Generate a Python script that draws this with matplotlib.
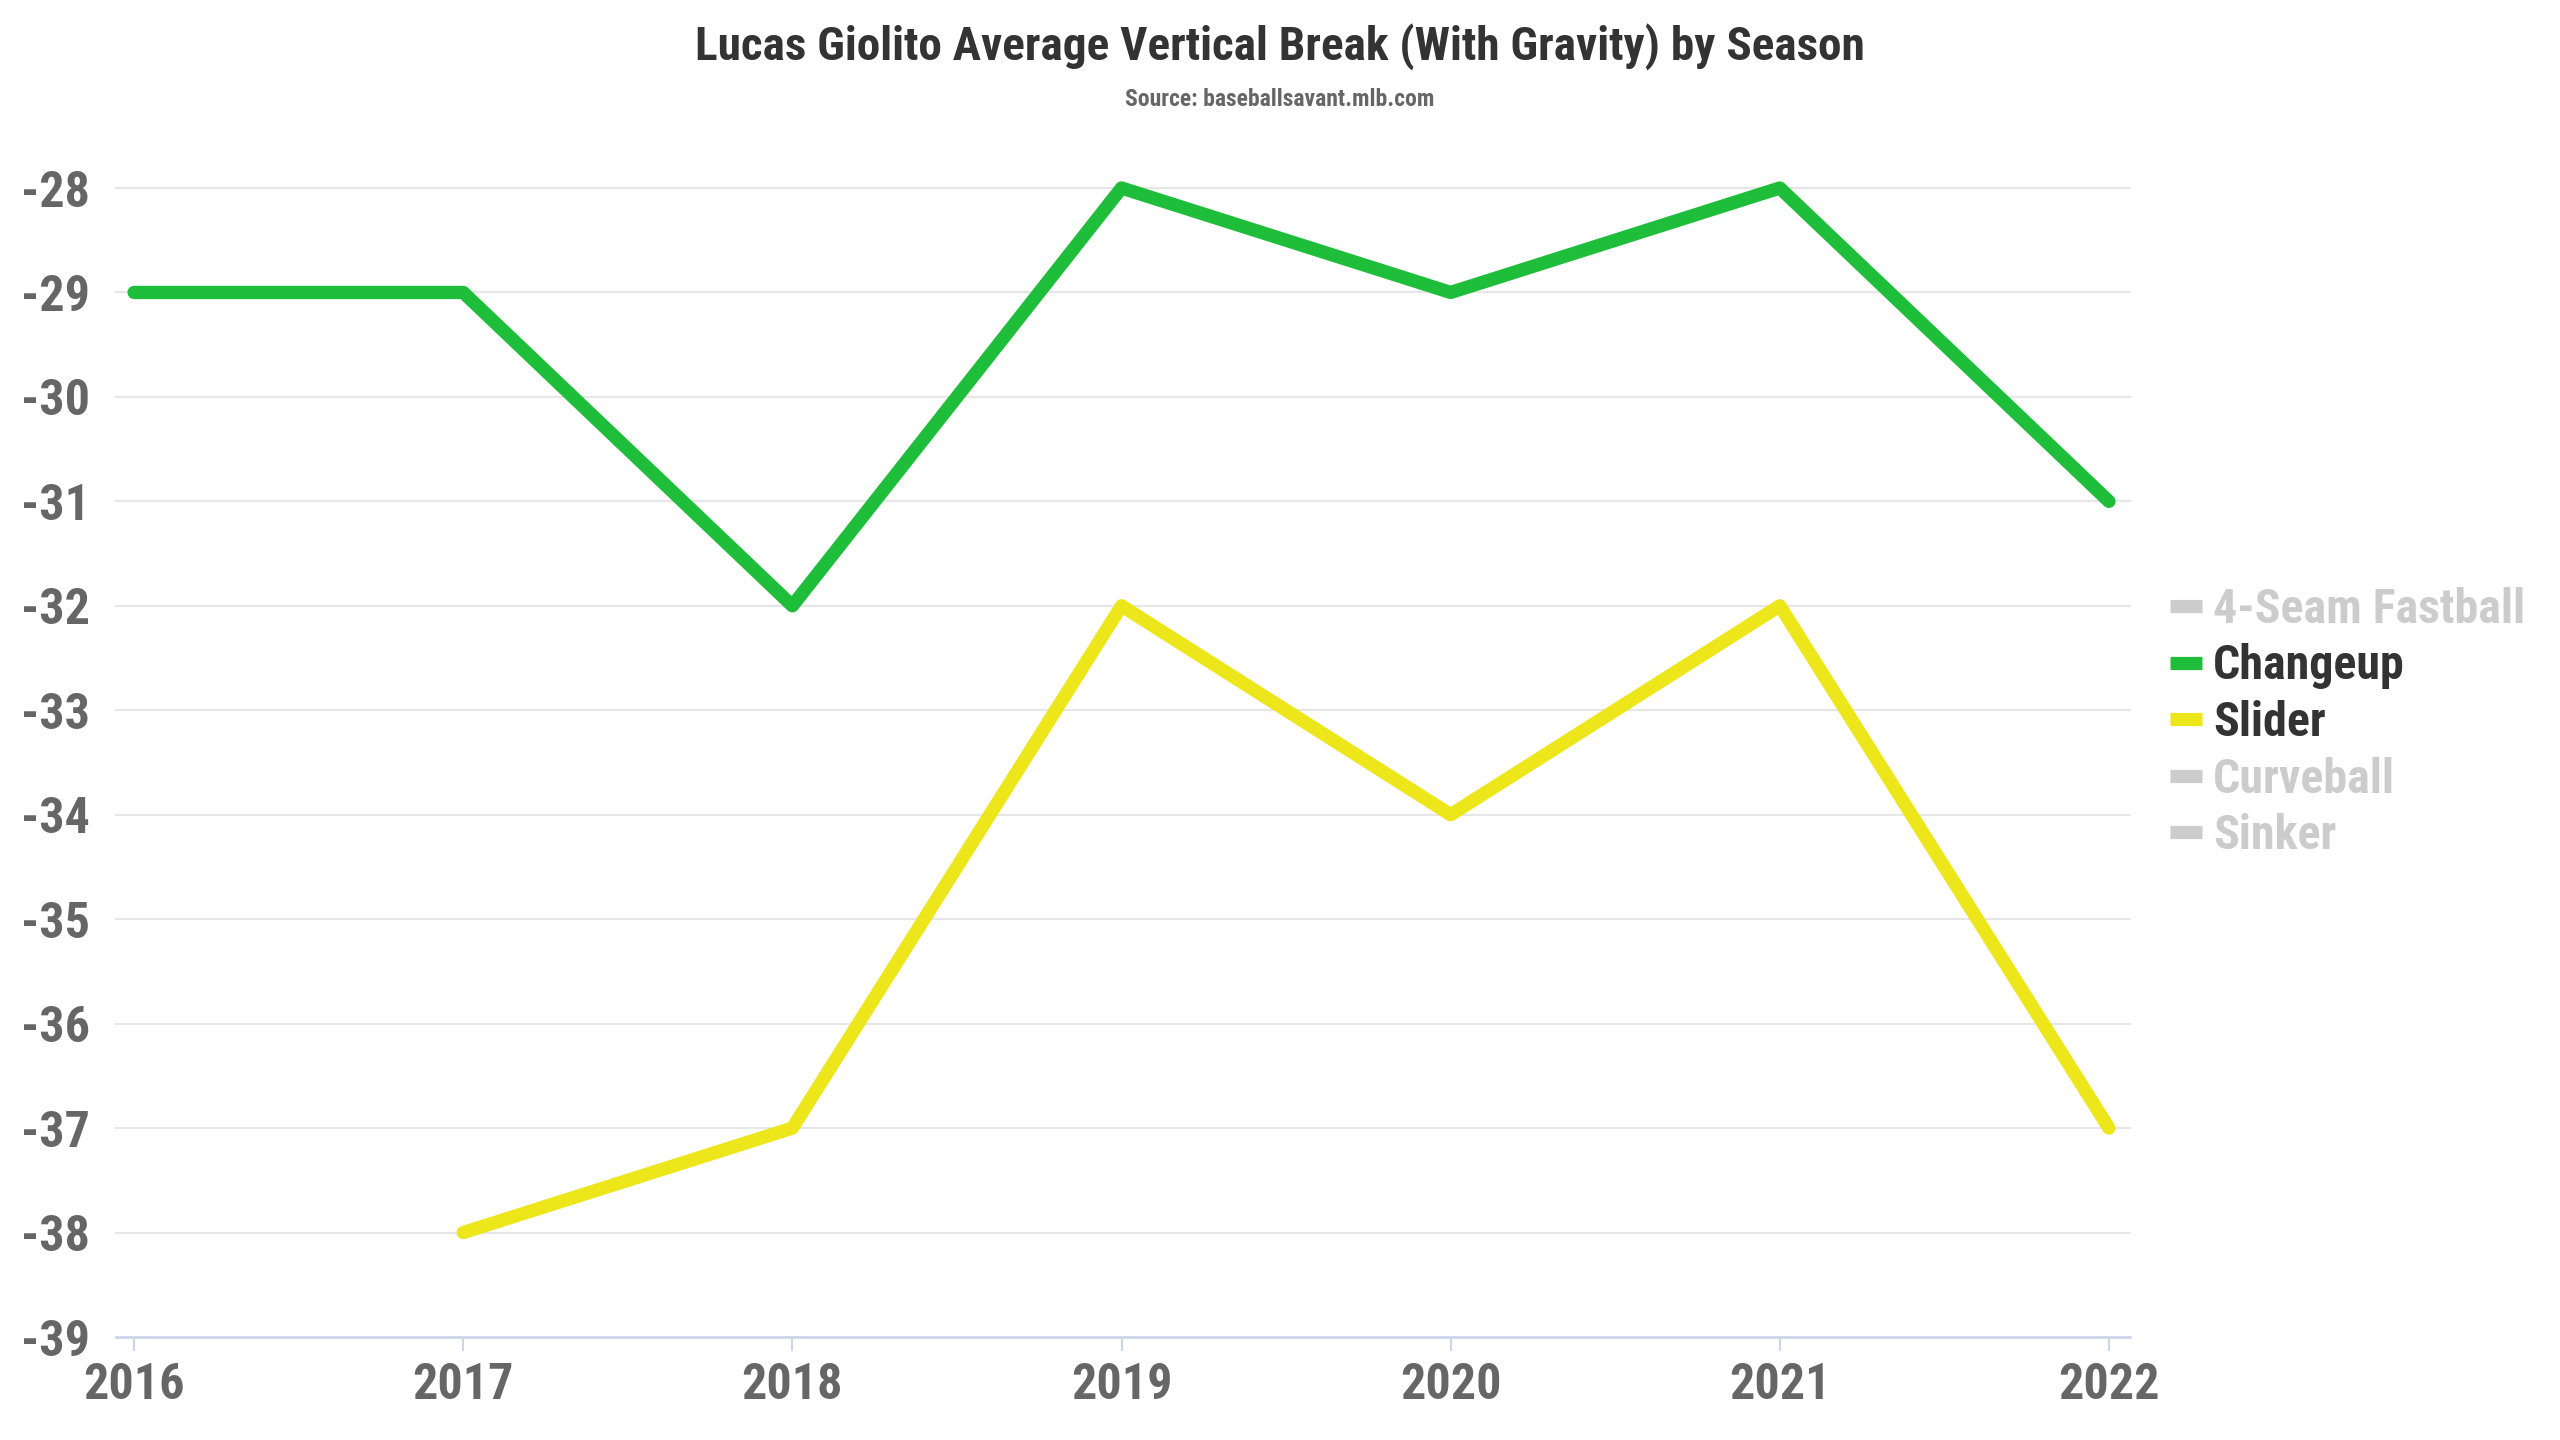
import matplotlib
matplotlib.use("Agg")
import matplotlib.pyplot as plt
from matplotlib import font_manager
from matplotlib.lines import Line2D
import numpy as np

# ---- data ----
seasons = [2016, 2017, 2018, 2019, 2020, 2021, 2022]
changeup = [-29, -29, -32, -28, -29, -28, -31]
slider = [np.nan, -38, -37, -32, -34, -32, -37]
legend_labels = ["4-Seam Fastball", "Changeup", "Slider", "Curveball", "Sinker"]
legend_visible = [False, True, True, False, False]
series_colors = {"Changeup": "#1ebe3b", "Slider": "#ece61a"}
y_ticks = list(range(-39, -27))
title = "Lucas Giolito Average Vertical Break (With Gravity) by Season"
subtitle = "Source: baseballsavant.mlb.com"

# ---- font ----
avail = {f.name for f in font_manager.fontManager.ttflist}
family = "Roboto"
for cand in ["Roboto Condensed", "Liberation Sans Narrow", "Roboto"]:
    if cand in avail:
        family = cand
        break
plt.rcParams["font.family"] = [family, "DejaVu Sans"]
plt.rcParams["font.weight"] = "bold"

W, H = 2560, 1440
fig = plt.figure(figsize=(W / 100, H / 100), dpi=100)
fig.patch.set_facecolor("white")

left, right = 116 / W, 2130 / W
top, bottom = 1 - 188 / H, 1 - 1337 / H
ax = fig.add_axes([left, bottom, right - left, top - bottom])

ax.set_xlim(2015.945, 2022.064)
ax.set_ylim(-39, -28)

lw = 9.6
ax.plot(seasons, changeup, color=series_colors["Changeup"], lw=lw,
        solid_capstyle="round", solid_joinstyle="round", clip_on=False, zorder=3)
ax.plot(seasons, slider, color=series_colors["Slider"], lw=lw,
        solid_capstyle="round", solid_joinstyle="round", clip_on=False, zorder=3)

# grid
ax.set_yticks(y_ticks)
ax.set_yticklabels([str(v) for v in y_ticks])
ax.set_xticks(seasons)
ax.set_xticklabels([str(s) for s in seasons])
for v in y_ticks[1:]:
    ax.axhline(v, color="#e6e6e6", lw=1.5, zorder=1, clip_on=False)

for s in ["top", "right", "left"]:
    ax.spines[s].set_visible(False)
ax.spines["bottom"].set_color("#ccd6eb")
ax.spines["bottom"].set_linewidth(2)

ax.tick_params(axis="y", length=0, pad=19, labelsize=36, labelcolor="#666666")
ax.tick_params(axis="x", length=10, width=1.5, color="#ccd6eb", pad=8,
               labelsize=36, labelcolor="#666666")
for lab in ax.get_xticklabels() + ax.get_yticklabels():
    lab.set_fontweight("bold")

# titles
fig.text(0.5, 1 - 47 / H, title, ha="center", va="center",
         fontsize=34, fontweight="bold", color="#333333")
fig.text(0.5, 1 - 99 / H, subtitle, ha="center", va="center",
         fontsize=17, fontweight="bold", color="#666666")

# legend
handles = []
for lab, vis in zip(legend_labels, legend_visible):
    c = series_colors.get(lab, "#cccccc") if vis else "#cccccc"
    handles.append(Line2D([0], [0], color=c, lw=9.5, solid_capstyle="butt"))
leg = fig.legend(handles, legend_labels, loc="center left",
                 bbox_to_anchor=(2170 / W, 1 - 723 / H), frameon=False,
                 fontsize=34.5, handlelength=0.67, handletextpad=0.23,
                 labelspacing=0.22, borderaxespad=0, borderpad=0)
for t, vis in zip(leg.get_texts(), legend_visible):
    t.set_color("#333333" if vis else "#cccccc")
    t.set_fontweight("bold")

fig.savefig("out.png", dpi=100, facecolor="white")
